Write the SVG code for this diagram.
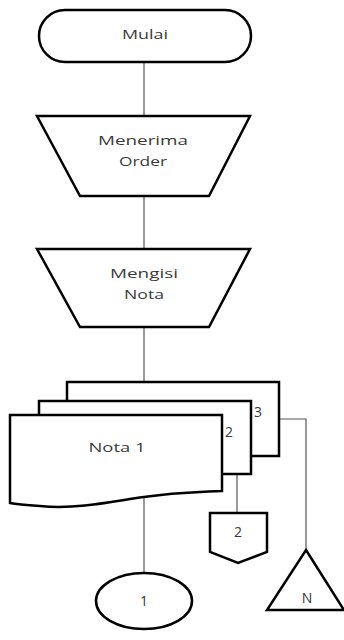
<svg xmlns="http://www.w3.org/2000/svg" width="344" height="640" viewBox="0 0 344 640">
<style>
.s{fill:#fff;stroke:#000;stroke-width:2.5;stroke-linejoin:miter}
.c{fill:none;stroke:#555;stroke-width:1.2}
text{font-family:"Open Sans","DejaVu Sans",sans-serif;font-size:13px;fill:#3a3a3a;text-anchor:middle}
.d{font-size:14px}
</style>
<rect width="344" height="640" fill="#fff"/>
<g id="connectors">
<line class="c" x1="144" y1="62" x2="144" y2="116"/>
<line class="c" x1="144" y1="196" x2="144" y2="249"/>
<line class="c" x1="144" y1="327" x2="144" y2="382"/>
<line class="c" x1="144" y1="497" x2="144" y2="572"/>
<line class="c" x1="237" y1="474" x2="237" y2="513"/>
<polyline class="c" points="279,419 306,419 306,550"/>
</g>
<g id="mulai">
<rect class="s" x="39" y="10" width="212" height="52" rx="26" ry="26"/>
<text x="145" y="39" textLength="46" lengthAdjust="spacingAndGlyphs">Mulai</text>
</g>
<g id="menerima-order">
<polygon class="s" points="37,116 250,116 209,196 80,196"/>
<text x="143" y="145" textLength="90" lengthAdjust="spacingAndGlyphs">Menerima</text>
<text x="143" y="166" textLength="48" lengthAdjust="spacingAndGlyphs">Order</text>
</g>
<g id="mengisi-nota">
<polygon class="s" points="37,249 250,249 209,327 80,327"/>
<text x="144" y="278" textLength="68" lengthAdjust="spacingAndGlyphs">Mengisi</text>
<text x="144" y="299" textLength="40" lengthAdjust="spacingAndGlyphs">Nota</text>
</g>
<g id="nota-3">
<rect class="s" x="67" y="382" width="212" height="74"/>
<text class="d" x="258" y="417" textLength="8" lengthAdjust="spacingAndGlyphs">3</text>
</g>
<g id="nota-2">
<rect class="s" x="39" y="401" width="212" height="73"/>
<text class="d" x="229" y="437" textLength="8" lengthAdjust="spacingAndGlyphs">2</text>
</g>
<g id="nota-1">
<path class="s" d="M10,415 L222,415 L222,491 C190,492 160,494 130,499 C100,504 70,509 40,506 C25,505 15,504 10,503 Z"/>
<text x="117" y="452" textLength="57" lengthAdjust="spacingAndGlyphs">Nota 1</text>
</g>
<g id="connector-1">
<ellipse class="s" cx="144" cy="601" rx="48" ry="28"/>
<text class="d" x="144" y="606">1</text>
</g>
<g id="offpage-2">
<polygon class="s" points="210,513 267,513 267,552 238,563 210,552"/>
<text class="d" x="238" y="537">2</text>
</g>
<g id="arsip-n">
<polygon class="s" points="306,550 344,610 267,610"/>
<text class="d" x="307" y="603">N</text>
</g>
</svg>
